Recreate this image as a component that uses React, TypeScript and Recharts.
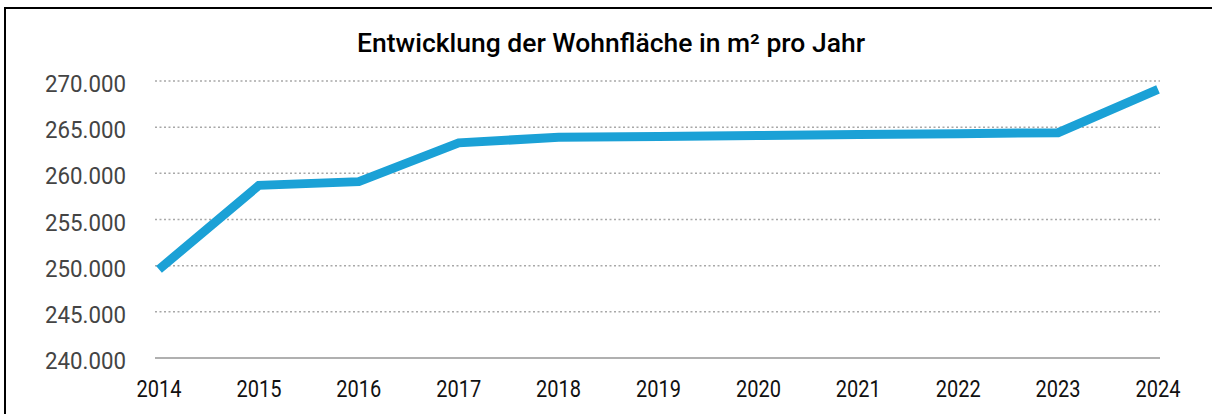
import React from "react";
import { LineChart, Line, XAxis, YAxis, CartesianGrid } from "recharts";

const years = ["2014", "2015", "2016", "2017", "2018", "2019", "2020", "2021", "2022", "2023", "2024"];
const wohnflaeche = [249600, 258700, 259100, 263300, 263900, 264000, 264100, 264200, 264300, 264400, 269100];
const yTicks = [240000, 245000, 250000, 255000, 260000, 265000, 270000];
const title = "Entwicklung der Wohnfläche in m² pro Jahr";

const data = years.map((y, i) => ({ year: y, value: wohnflaeche[i] }));

const fmt = (v: number) => {
  const s = String(Math.round(v));
  return s.replace(/\B(?=(\d{3})+(?!\d))/g, ".");
};

const XTick = (props: any) => {
  const { x, y, payload } = props;
  return (
    <text
      x={x}
      y={y + 39}
      textAnchor="middle"
      fontFamily="Roboto, sans-serif"
      fontSize={24}
      fill="#111"
      textLength={45}
      lengthAdjust="spacingAndGlyphs"
    >
      {payload.value}
    </text>
  );
};

const YTick = (props: any) => {
  const { x, y, payload } = props;
  return (
    <text
      x={x - 29}
      y={y + 11}
      textAnchor="end"
      fontFamily="Roboto, sans-serif"
      fontSize={24}
      fill="#444"
      textLength={81}
      lengthAdjust="spacingAndGlyphs"
    >
      {fmt(payload.value)}
    </text>
  );
};

export default function App() {
  return (
    <div style={{ position: "absolute", left: 0, top: 0, width: 1212, height: 414, overflow: "hidden", background: "#fff" }}>
      <div
        style={{
          position: "absolute",
          left: 4,
          top: 7,
          width: 1240,
          height: 440,
          border: "2px solid #000",
          boxSizing: "border-box",
        }}
      />
      <svg style={{ position: "absolute", left: 0, top: 0 }} width={1212} height={80}>
        <text
          x={611}
          y={52}
          textAnchor="middle"
          fontFamily="Roboto, sans-serif"
          fontSize={25}
          fontWeight={500}
          fill="#000"
          textLength={508}
          lengthAdjust="spacingAndGlyphs"
        >
          {title}
        </text>
      </svg>
      <div style={{ position: "absolute", left: 0, top: 0 }}>
        <LineChart
          width={1212}
          height={414}
          data={data}
          margin={{ top: 81, right: 52, bottom: 16, left: 0 }}
        >
          <CartesianGrid
            vertical={false}
            stroke="#a8a8a8"
            strokeWidth={1.5}
            strokeDasharray="2 2.5"
          />
          <XAxis
            dataKey="year"
            tick={<XTick />}
            tickLine={false}
            tickSize={0}
            tickMargin={0}
            height={40}
            padding={{ left: 4, right: 2 }}
            axisLine={{ stroke: "#b0b0b0", strokeWidth: 2 }}
            interval={0}
          />
          <YAxis
            domain={[240000, 270000]}
            ticks={yTicks}
            width={155}
            tick={<YTick />}
            tickLine={false}
            tickSize={0}
            tickMargin={0}
            axisLine={false}
            allowDataOverflow
          />
          <Line
            type="linear"
            dataKey="value"
            stroke="#1ba1d6"
            strokeWidth={9}
            dot={false}
            activeDot={false}
            strokeLinejoin="miter"
            isAnimationActive={false}
          />
        </LineChart>
      </div>
    </div>
  );
}
